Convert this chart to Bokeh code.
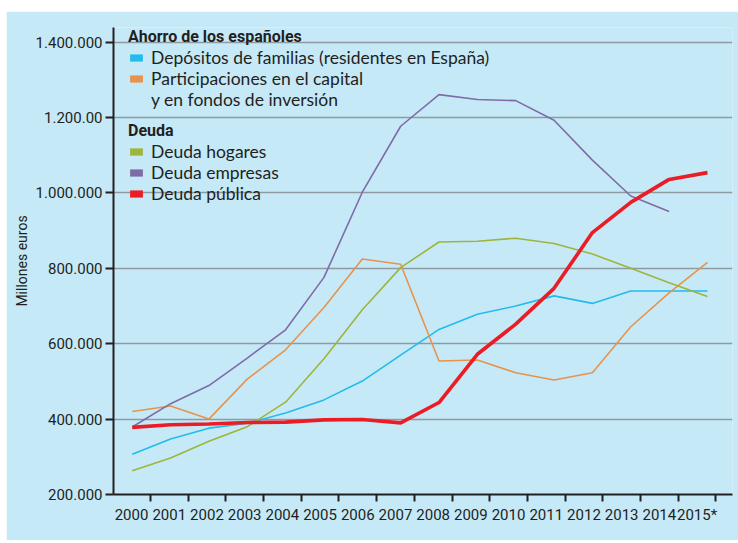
from bokeh.plotting import figure
from bokeh.models import Range1d, LinearAxis, FixedTicker, Legend, LegendItem
from bokeh.embed import file_html
from bokeh.resources import INLINE

# ---- data ----
years = list(range(2000, 2016))
year_labels = ["2000", "2001", "2002", "2003", "2004", "2005", "2006", "2007",
               "2008", "2009", "2010", "2011", "2012", "2013", "2014", "2015*"]
depositos = [307000, 347000, 376000, 389000, 416000, 451000, 501000, 570000,
             638000, 678000, 700000, 727000, 707000, 740000, 740000, 740000]
participaciones = [420000, 435000, 400000, 506000, 584000, 696000, 825000, 811000,
                   554000, 557000, 523000, 504000, 523000, 645000, 735000, 816000]
deuda_hogares = [263000, 297000, 341000, 380000, 445000, 560000, 690000, 802000,
                 870000, 872000, 880000, 866000, 838000, 800000, 762000, 725000]
empresas_years = list(range(2000, 2015))
deuda_empresas = [379000, 441000, 489000, 562000, 637000, 776000, 1002000, 1177000,
                  1261000, 1248000, 1245000, 1193000, 1087000, 992000, 951000]
deuda_publica = [378000, 385000, 387000, 391000, 392000, 398000, 399000, 390000,
                 444000, 572000, 652000, 747000, 895000, 975000, 1036000, 1054000]
y_ticks = [200000, 400000, 600000, 800000, 1000000, 1200000, 1400000]
y_tick_labels = ["200.000", "400.000", "600.000", "800.000", "1.000.000", "1.200.00", "1.400.000"]

BG = "#c6e9f8"
C_DEP = "#23bbec"
C_PAR = "#e8934c"
C_HOG = "#9db53c"
C_EMP = "#7e6ca8"
C_PUB = "#ec1c24"
INK = "#231f20"
AXF = "Roboto"
LEG_FONT = "Lato"

p = figure(width=732, height=529,
           x_range=Range1d(1999.512, 2015.653), y_range=Range1d(200000, 1439000),
           x_axis_location=None,
           output_backend="svg", toolbar_location=None,
           min_border_left=107, min_border_right=6, min_border_top=16, min_border_bottom=46,
           background_fill_color=BG, border_fill_color=BG, outline_line_color=None)
p.styles = {"margin-left": "6px", "margin-top": "11px"}

# y axis
ya = p.yaxis[0]
ya.ticker = FixedTicker(ticks=y_ticks, minor_ticks=[])
ya.major_label_overrides = {t: l for t, l in zip(y_ticks, y_tick_labels)}
ya.axis_line_color = INK
ya.axis_line_width = 2
ya.major_tick_line_color = INK
ya.major_tick_line_width = 2
ya.major_tick_out = 8
ya.major_tick_in = 0
ya.minor_tick_line_color = None
ya.major_label_standoff = 3
ya.major_label_text_font = AXF
ya.major_label_text_font_size = "15px"
ya.major_label_text_color = INK
ya.axis_label = "Millones euros"
ya.axis_label_text_font = AXF
ya.axis_label_text_font_size = "14px"
ya.axis_label_text_font_style = "normal"
ya.axis_label_text_color = INK
ya.axis_label_standoff = 3

# x axis: labels centred in cells, tick marks at the cell boundaries
p.extra_x_ranges = {"lab": Range1d(0.021, 16.44)}
label_pos = [i + 0.5 for i in range(len(year_labels))]
xa = LinearAxis(x_range_name="lab",
                ticker=FixedTicker(ticks=label_pos, minor_ticks=[i + 1 for i in range(len(year_labels))]),
                major_label_overrides={pos: lab for pos, lab in zip(label_pos, year_labels)})
xa.axis_line_color = INK
xa.axis_line_width = 2
xa.major_tick_line_color = None
xa.major_tick_out = 7
xa.minor_tick_line_color = INK
xa.minor_tick_line_width = 2
xa.minor_tick_out = 7
xa.minor_tick_in = 0
xa.major_label_standoff = 4
xa.major_label_text_font = AXF
xa.major_label_text_font_size = "15px"
xa.major_label_text_color = INK
p.add_layout(xa, "below")

p.xgrid.visible = False
p.ygrid.ticker = FixedTicker(ticks=y_ticks)
p.ygrid.grid_line_color = "#8e9a9f"
p.ygrid.grid_line_width = 1.5

# series
p.line(years, depositos, line_color=C_DEP, line_width=1.6)
p.line(years, participaciones, line_color=C_PAR, line_width=1.6)
p.line(years, deuda_hogares, line_color=C_HOG, line_width=1.6)
p.line(empresas_years, deuda_empresas, line_color=C_EMP, line_width=1.6)
p.line(years, deuda_publica, line_color=C_PUB, line_width=3.6)

# legend swatches (proxy glyphs that are never drawn in the plot area)
NAN = float("nan")
def swatch(color, alpha=1.0):
    return p.quad(left=[NAN], right=[NAN], top=[NAN], bottom=[NAN], fill_color=color,
                  fill_alpha=alpha, line_color=None)

s_dep = swatch(C_DEP)
s_par = swatch(C_PAR)
s_blank = swatch(BG, 0.0)
s_hog = swatch(C_HOG)
s_emp = swatch(C_EMP)
s_pub = swatch(C_PUB)

def make_legend(title, items, loc):
    lg = Legend(title=title, items=items, location=loc)
    lg.title_text_font = AXF
    lg.title_text_font_style = "bold"
    lg.title_text_font_size = "16px"
    lg.title_text_color = INK
    lg.title_standoff = 1
    lg.label_text_font = LEG_FONT
    lg.label_text_font_size = "17.5px"
    lg.label_text_color = INK
    lg.glyph_width = 16
    lg.glyph_height = 9
    lg.label_standoff = 7
    lg.label_height = 21
    lg.spacing = 0
    lg.padding = 0
    lg.margin = 0
    lg.border_line_color = None
    lg.background_fill_alpha = 0
    return lg

leg1 = make_legend("Ahorro de los españoles", [
    LegendItem(label="Depósitos de familias (residentes en España)", renderers=[s_dep]),
    LegendItem(label="Participaciones en el capital", renderers=[s_par]),
    LegendItem(label="y en fondos de inversión", renderers=[s_blank]),
], (15, 384))
leg2 = make_legend("Deuda", [
    LegendItem(label="Deuda hogares", renderers=[s_hog]),
    LegendItem(label="Deuda empresas", renderers=[s_emp]),
    LegendItem(label="Deuda pública", renderers=[s_pub]),
], (15, 290))
p.add_layout(leg1)
p.add_layout(leg2)

open("out.html", "w").write(file_html(p, INLINE))
